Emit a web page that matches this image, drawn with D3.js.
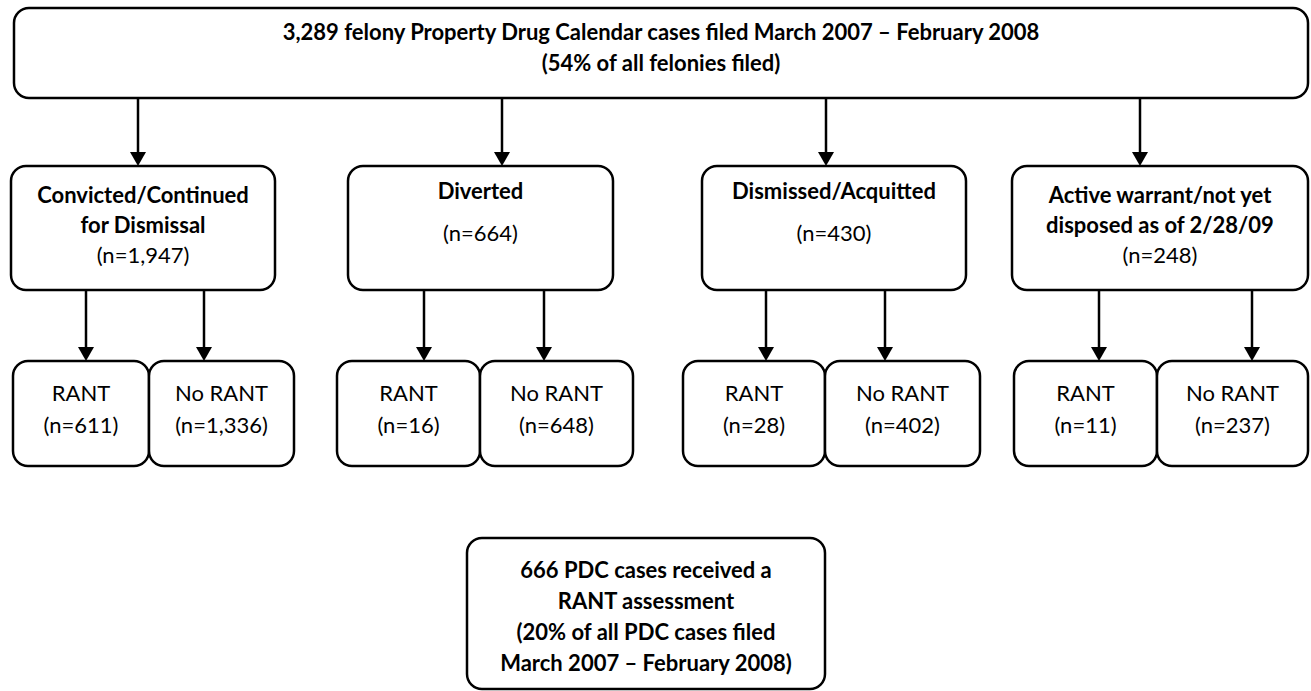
<!DOCTYPE html>
<html>
<head>
<meta charset="utf-8">
<script src="https://cdn.jsdelivr.net/npm/d3@7"></script>
<style>
  body { margin: 0; background: #fff; }
  svg { display: block; }
  text { font-family: Lato, "Open Sans", sans-serif; fill: #000; }
</style>
</head>
<body>
<div id="chart"></div>
<script>
// data
var headline = ["3,289 felony Property Drug Calendar cases filed March 2007 \u2013 February 2008",
                "(54% of all felonies filed)"];
var outcomes = ["Convicted/Continued for Dismissal", "Diverted", "Dismissed/Acquitted",
                "Active warrant/not yet disposed as of 2/28/09"];
var outcomeLines = [["Convicted/Continued", "for Dismissal"], ["Diverted"], ["Dismissed/Acquitted"],
                    ["Active warrant/not yet", "disposed as of 2/28/09"]];
var outcomeCounts = [1947, 664, 430, 248];
var childLabels = ["RANT", "No RANT"];
var rantCounts = [611, 16, 28, 11];
var noRantCounts = [1336, 648, 402, 237];
var summaryLines = ["666 PDC cases received a", "RANT assessment",
                    "(20% of all PDC cases filed", "March 2007 \u2013 February 2008)"];

var width = 1311, height = 691;
var fmt = d3.format(",");
var fs = 22;

// layout (pixels)
var colLeft  = d3.scaleOrdinal().domain(outcomes).range([11, 348, 702, 1012]);
var colRight = d3.scaleOrdinal().domain(outcomes).range([275, 613, 966, 1308]);
var topArrowX = d3.scaleOrdinal().domain(outcomes).range([138, 502, 826, 1140]);
var pairLeft  = d3.scaleOrdinal().domain(outcomes).range([13, 337, 683, 1014]);
var pairSplit = d3.scaleOrdinal().domain(outcomes).range([149, 480, 825, 1157]);
var pairRight = d3.scaleOrdinal().domain(outcomes).range([294, 633, 980, 1308]);
var childArrowX = d3.scaleOrdinal().domain(outcomes).range([[86, 204], [424, 544], [766, 885], [1099, 1252]]);

var y = { headTop: 8, headBot: 98, midTop: 166, midBot: 290, lowTop: 361, lowBot: 466, sumTop: 538, sumBot: 689 };

var svg = d3.select("#chart").append("svg")
    .attr("width", width)
    .attr("height", height);

function box(x0, y0, x1, y1){
    svg.append("rect")
        .attr("x", x0).attr("y", y0)
        .attr("width", x1 - x0).attr("height", y1 - y0)
        .attr("rx", 15).attr("ry", 15)
        .attr("fill", "#fff")
        .attr("stroke", "#000")
        .attr("stroke-width", 2.5);
}

function arrow(x, y0, y1){
    svg.append("line")
        .attr("x1", x).attr("x2", x)
        .attr("y1", y0).attr("y2", y1 - 12)
        .attr("stroke", "#000").attr("stroke-width", 2.5);
    svg.append("path")
        .attr("d", "M" + (x - 8) + "," + (y1 - 14) + "L" + (x + 8) + "," + (y1 - 14) + "L" + x + "," + y1 + "Z")
        .attr("fill", "#000");
}

function label(x, yb, txt, bold){
    svg.append("text")
        .attr("x", x).attr("y", yb)
        .attr("text-anchor", "middle")
        .attr("font-size", fs)
        .attr("font-weight", bold ? "bold" : "normal")
        .text(txt);
}

// top box
box(14, y.headTop, 1308, y.headBot);
label(661, 40, headline[0], true);
label(661, 71, headline[1], true);

// outcome boxes
outcomes.forEach(function(o, i){
    var x0 = colLeft(o), x1 = colRight(o), cx = (x0 + x1) / 2;
    arrow(topArrowX(o), y.headBot, y.midTop);
    box(x0, y.midTop, x1, y.midBot);
    var lines = outcomeLines[i];
    if(lines.length == 2){
        label(cx, 203, lines[0], true);
        label(cx, 233, lines[1], true);
        label(cx, 263, "(n=" + fmt(outcomeCounts[i]) + ")", false);
    } else {
        label(cx, 199, lines[0], true);
        label(cx, 241, "(n=" + fmt(outcomeCounts[i]) + ")", false);
    }

    var ax = childArrowX(o);
    arrow(ax[0], y.midBot, y.lowTop);
    arrow(ax[1], y.midBot, y.lowTop);

    var l = pairLeft(o), s = pairSplit(o), r = pairRight(o);
    box(l, y.lowTop, s, y.lowBot);
    box(s, y.lowTop, r, y.lowBot);
    var vals = [rantCounts[i], noRantCounts[i]];
    [[l, s], [s, r]].forEach(function(b, j){
        var c = (b[0] + b[1]) / 2;
        label(c, 401, childLabels[j], false);
        label(c, 433, "(n=" + fmt(vals[j]) + ")", false);
    });
});

// summary box
box(467, y.sumTop, 825, y.sumBot);
summaryLines.forEach(function(t, i){
    label(646, [578, 609, 640, 671][i], t, true);
});
</script>
</body>
</html>
